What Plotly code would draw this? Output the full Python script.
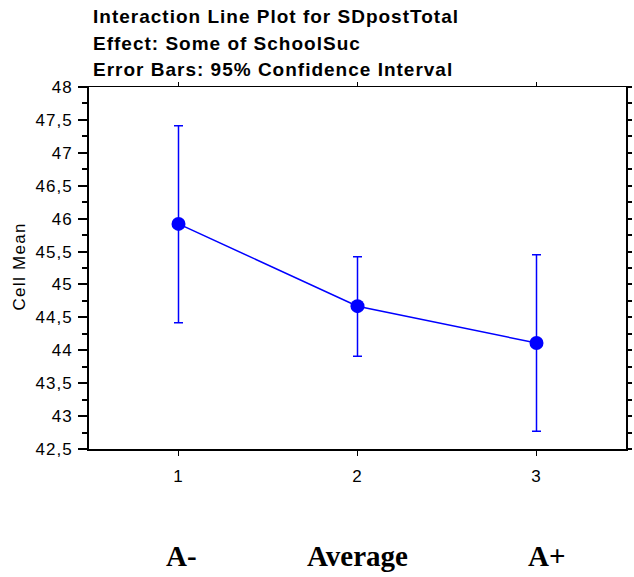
import plotly.graph_objects as go

# Cell means with 95% confidence limits for the three SchoolSuc groups
levels = [1, 2, 3]
group_names = ["A-", "Average", "A+"]
cell_mean = [45.92, 44.67, 44.11]
ci_upper = [47.41, 45.42, 45.45]
ci_lower = [44.42, 43.91, 42.77]

y_ticks = [42.5, 43, 43.5, 44, 44.5, 45, 45.5, 46, 46.5, 47, 47.5, 48]
y_tick_text = ["42,5", "43", "43,5", "44", "44,5", "45", "45,5", "46", "46,5", "47", "47,5", "48"]

title_lines = [
    "Interaction Line Plot for SDpostTotal",
    "Effect: Some of SchoolSuc",
    "Error Bars: 95% Confidence Interval",
]

BLUE = "#0000FF"
W, H = 634, 577
L, R, T, B = 89, 4, 87, 128
plot_w = W - L - R
plot_h = H - T - B
SANS = "Liberation Sans, Arial, sans-serif"


def spaced(text, px):
    return f'<span style="letter-spacing:{px}px">{text}</span>'


err_plus = [u - m for u, m in zip(ci_upper, cell_mean)]
err_minus = [m - l for m, l in zip(cell_mean, ci_lower)]

fig = go.Figure()
fig.add_trace(go.Scatter(
    x=levels, y=cell_mean, mode="lines+markers",
    line=dict(color=BLUE, width=1.5),
    marker=dict(color=BLUE, size=14),
    error_y=dict(type="data", symmetric=False, array=err_plus, arrayminus=err_minus,
                 color=BLUE, thickness=1.5, width=4.5),
    showlegend=False, hoverinfo="skip",
))

font_ticks = dict(family=SANS, size=17, color="black")

fig.update_layout(
    width=W, height=H,
    margin=dict(l=L, r=R, t=T, b=B),
    paper_bgcolor="white", plot_bgcolor="white",
    xaxis=dict(
        range=[0.5, 3.5], tickvals=levels, ticktext=[spaced(str(v), 1) for v in levels],
        showgrid=False, zeroline=False, showline=True, linecolor="black", linewidth=2,
        ticks="outside", ticklen=5, tickwidth=1, tickcolor="black",
        tickfont=font_ticks, ticklabelstandoff=6,
    ),
    xaxis2=dict(
        range=[0.5, 3.5], tickvals=levels, overlaying="x", side="top",
        showgrid=False, zeroline=False, showline=True, linecolor="black", linewidth=1,
        ticks="outside", ticklen=4, tickwidth=1, tickcolor="black", showticklabels=False,
    ),
    yaxis=dict(
        range=[42.5, 48], tickvals=y_ticks, ticktext=[spaced(t, 1) for t in y_tick_text],
        showgrid=False, zeroline=False, showline=True, linecolor="black", linewidth=2,
        ticks="outside", ticklen=9, tickwidth=1.5, tickcolor="black",
        minor=dict(dtick=0.25, tick0=42.5, ticks="outside", ticklen=5, tickwidth=1.5,
                   tickcolor="black", showgrid=False),
        tickfont=font_ticks, ticklabelstandoff=2,
    ),
    yaxis2=dict(
        range=[42.5, 48], overlaying="y", side="right", dtick=0.25, tick0=42.5,
        showgrid=False, zeroline=False, showline=True, linecolor="black", linewidth=2,
        ticks="outside", ticklen=4, tickwidth=1.5, tickcolor="black", showticklabels=False,
    ),
)

# empty trace so the mirrored top/right axes get drawn
fig.add_trace(go.Scatter(x=[None], y=[None], xaxis="x2", yaxis="y2",
                         showlegend=False, hoverinfo="skip"))

annotations = []
for i, line in enumerate(title_lines):
    annotations.append(dict(
        text=f"<b>{spaced(line, 1)}</b>", xref="paper", yref="paper",
        x=(91 - L) / plot_w, y=(H - B - (17 + 26 * i)) / plot_h,
        xanchor="left", yanchor="middle", showarrow=False,
        font=dict(family=SANS, size=19, color="black"),
    ))

annotations.append(dict(
    text=spaced("Cell Mean", 1.3), xref="paper", yref="paper",
    x=(18 - L) / plot_w, y=(H - B - 267) / plot_h, textangle=-90,
    xanchor="center", yanchor="middle", showarrow=False,
    font=dict(family=SANS, size=17, color="black"),
))

label_shift = [3, 0, 10]
for lv, name, dx in zip(levels, group_names, label_shift):
    annotations.append(dict(
        text=f"<b>{name}</b>", xref="x", yref="paper",
        x=lv, y=(H - B - 556) / plot_h, xshift=dx,
        xanchor="center", yanchor="middle", showarrow=False,
        font=dict(family="Liberation Serif, Times New Roman, serif", size=29, color="black"),
    ))

fig.update_layout(annotations=annotations)
fig.write_html("out.html")
